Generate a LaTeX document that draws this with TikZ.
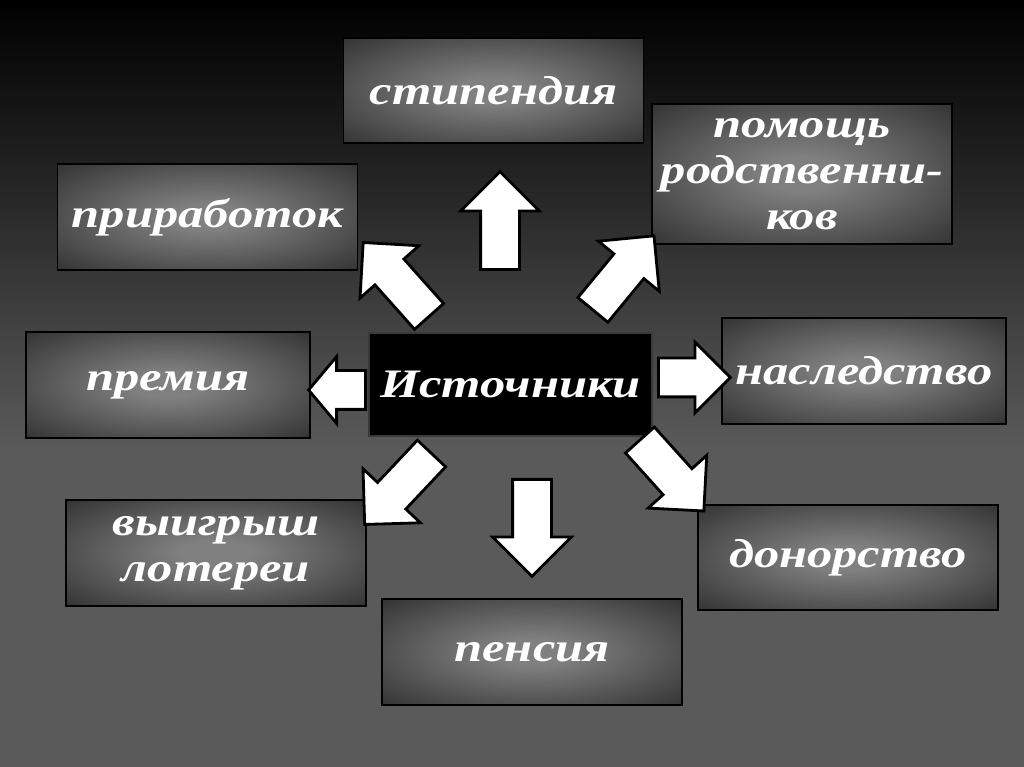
\documentclass[tikz,border=0pt]{standalone}
\usepackage{fontspec}
\setmainfont{Liberation Serif}[FakeStretch=1.25]
\usetikzlibrary{positioning,shapes.arrows}
\definecolor{bgbottom}{RGB}{90,90,90}
\definecolor{boxmid}{RGB}{128,128,128}
\definecolor{boxedge}{RGB}{14,14,14}
\pgfdeclareradialshading{boxglow}{\pgfpoint{0bp}{0bp}}{color(0bp)=(boxmid); color(6bp)=(boxmid); color(50bp)=(boxedge)}
\begin{document}
\begin{tikzpicture}
    \tikzstyle{every node}=[font=\fontsize{23}{26}\selectfont\bfseries\itshape, align=center]
    \tikzset{
        box/.style={draw=black, line width=0.8pt, shading=boxglow, text=white, minimum width=6cm, minimum height=2.12cm},
        box2/.style={box, minimum width=5.68cm},
        hub/.style={draw=gray!45!black, line width=1.2pt, fill=black, text=white, minimum width=5.66cm, minimum height=2.06cm},
        blk/.style={single arrow, draw=black, fill=white, line width=1.6pt, single arrow head extend=0.4cm, single arrow head indent=0pt, inner xsep=0pt, inner ysep=0.36cm, minimum width=0pt, anchor=tail}
        }

    %background
    \useasboundingbox (0,0) rectangle (20.48,15.34);
    \fill [bgbottom] (0,0) rectangle (20.48,6.34);
    \fill [top color=black, bottom color=bgbottom] (0,6.34) rectangle (20.48,15.34);

    %sources
    \node (src) [hub] at (10.21,7.65) {Источники};

    %top row
    \node (stip) [box, minimum height=2.1cm] at (9.87,13.53) {стипендия};
    \node (help) [box, minimum height=2.8cm] at (16.04,11.86) {помощь\\родственни-\\ков};
    \node (side) [box] at (4.15,11.0) {приработок};

    %middle row
    \node (bonus) [box2] at (3.36,7.64) {премия};
    \node (inher) [box2] at (17.28,7.92) {наследство};

    %bottom row
    \node (lott) [box] at (4.32,4.28) {выигрыш\\лотереи};
    \node (donor) [box, minimum height=2.1cm] at (16.96,4.19) {донорство};
    \node (pens) [box] at (10.64,2.30) {пенсия};

    %arrows
    \node (aup) [blk, rotate=90, minimum height=1.96cm] at (10.00,9.92) {};
    \node (adown) [blk, rotate=-90, minimum height=1.94cm] at (10.64,5.78) {};
    \node (aleft) [blk, rotate=180, minimum height=1.14cm, single arrow head extend=0.28cm, single arrow tip angle=100] at (7.34,7.54) {};
    \node (aright) [blk, minimum height=1.44cm, single arrow head extend=0.32cm] at (13.14,7.79) {};
    \node (aul) [blk, rotate=131.7, minimum height=1.98cm] at (8.60,8.99) {};
    \node (aur) [blk, rotate=50.5, minimum height=1.92cm] at (11.84,9.12) {};
    \node (adl) [blk, rotate=226.7, minimum height=1.95cm] at (8.65,6.29) {};
    \node (adr) [blk, rotate=-48, minimum height=1.91cm] at (12.78,6.56) {};
\end{tikzpicture}
\end{document}
